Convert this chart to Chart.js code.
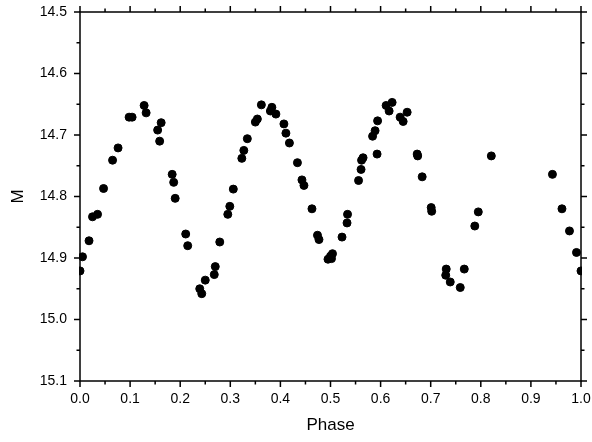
<!DOCTYPE html>
<html lang="en">
<head>
  <meta charset="UTF-8">
  <script src="https://cdn.jsdelivr.net/npm/chart.js"></script>
  <style>
    body { margin: 0; background: #fff; }
    #wrap { width: 592px; height: 442px; }
  </style>
</head>
<body>
  <div id="wrap"><canvas id="lc" width="592" height="442"></canvas></div>

  <script>
    // light curve: phase vs magnitude
    const phase = [
      0.000, 0.005, 0.018, 0.025, 0.035, 0.047, 0.065, 0.076, 0.098, 0.104,
      0.128, 0.132, 0.155, 0.159, 0.162, 0.184, 0.187, 0.190, 0.211, 0.215,
      0.239, 0.243, 0.250, 0.268, 0.270, 0.279, 0.295, 0.299, 0.306, 0.323,
      0.327, 0.334, 0.350, 0.354, 0.362, 0.380, 0.383, 0.391, 0.407, 0.411,
      0.418, 0.434, 0.443, 0.447, 0.463, 0.474, 0.477, 0.495, 0.500, 0.502,
      0.504, 0.523, 0.533, 0.534, 0.556, 0.561, 0.562, 0.565, 0.584, 0.589,
      0.593, 0.594, 0.611, 0.617, 0.623, 0.639, 0.645, 0.653, 0.673, 0.674,
      0.683, 0.701, 0.702, 0.730, 0.731, 0.739, 0.759, 0.767, 0.788, 0.795,
      0.821, 0.943, 0.962, 0.977, 0.991, 1.000
    ];
    const mag = [
      14.921, 14.898, 14.872, 14.833, 14.829, 14.787, 14.741, 14.721, 14.671, 14.671,
      14.652, 14.664, 14.692, 14.710, 14.680, 14.764, 14.777, 14.803, 14.861, 14.880,
      14.950, 14.958, 14.936, 14.927, 14.914, 14.874, 14.829, 14.816, 14.788, 14.738,
      14.725, 14.706, 14.679, 14.674, 14.651, 14.661, 14.655, 14.666, 14.682, 14.697,
      14.713, 14.745, 14.773, 14.782, 14.820, 14.863, 14.870, 14.902, 14.897, 14.901,
      14.893, 14.866, 14.843, 14.829, 14.774, 14.756, 14.741, 14.737, 14.702, 14.693,
      14.731, 14.677, 14.652, 14.661, 14.647, 14.671, 14.678, 14.663, 14.731, 14.734,
      14.768, 14.818, 14.824, 14.928, 14.918, 14.939, 14.948, 14.918, 14.848, 14.825,
      14.734, 14.764, 14.820, 14.856, 14.891, 14.921
    ];
    const xRange = [0, 1];
    const yRange = [14.5, 15.1];

    const points = phase.map((p, i) => ({ x: p, y: mag[i] }));
    const font = { family: "'Liberation Sans', Arial, sans-serif", size: 14 };

    // box frame with outward major/minor ticks on all four sides
    const frameTicks = {
      id: 'frameTicks',
      afterDraw(chart) {
        const { ctx, chartArea: a, scales: { x, y } } = chart;
        ctx.save();
        ctx.strokeStyle = '#000';
        ctx.lineWidth = 1.5;
        ctx.strokeRect(a.left, a.top, a.right - a.left, a.bottom - a.top);
        ctx.beginPath();
        for (let i = 0; i <= 20; i++) {
          const v = xRange[0] + i * 0.05;
          const px = x.getPixelForValue(v);
          const len = i % 2 === 0 ? 6 : 3.5;
          ctx.moveTo(px, a.bottom); ctx.lineTo(px, a.bottom + len);
          ctx.moveTo(px, a.top); ctx.lineTo(px, a.top - len);
        }
        for (let i = 0; i <= 12; i++) {
          const v = yRange[0] + i * 0.05;
          const py = y.getPixelForValue(v);
          const len = i % 2 === 0 ? 6 : 3.5;
          ctx.moveTo(a.left, py); ctx.lineTo(a.left - len, py);
          ctx.moveTo(a.right, py); ctx.lineTo(a.right + len, py);
        }
        ctx.stroke();
        ctx.restore();
      }
    };

    new Chart(document.getElementById('lc'), {
      type: 'scatter',
      data: {
        datasets: [{
          data: points,
          backgroundColor: '#000',
          borderColor: '#000',
          pointRadius: 4,
          pointHoverRadius: 4,
          clip: 1
        }]
      },
      options: {
        responsive: false,
        animation: false,
        layout: { padding: { top: 12, right: 11, left: 0, bottom: 0 } },
        plugins: { legend: { display: false }, tooltip: { enabled: false } },
        scales: {
          x: {
            type: 'linear',
            min: xRange[0],
            max: xRange[1],
            grid: { display: false, drawTicks: false },
            border: { display: false },
            ticks: {
              stepSize: 0.1,
              color: '#000',
              font: font,
              padding: 10,
              maxRotation: 0,
              callback: v => v.toFixed(1)
            },
            title: {
              display: true,
              text: 'Phase',
              color: '#000',
              font: { family: font.family, size: 17 },
              padding: { top: 0, bottom: 6 }
            },
            afterFit: s => { s.height = 61; s.paddingLeft = 0; s.paddingRight = 0; }
          },
          y: {
            type: 'linear',
            reverse: true,
            min: yRange[0],
            max: yRange[1],
            grid: { display: false, drawTicks: false },
            border: { display: false },
            ticks: {
              stepSize: 0.1,
              color: '#000',
              font: font,
              padding: 13,
              callback: v => v.toFixed(1)
            },
            title: {
              display: true,
              text: 'M',
              color: '#000',
              font: { family: font.family, size: 17 },
              padding: { top: 8, bottom: 0 }
            },
            afterFit: s => { s.width = 80; s.paddingTop = 0; s.paddingBottom = 0; }
          }
        }
      },
      plugins: [frameTicks]
    });
  </script>
</body>
</html>
